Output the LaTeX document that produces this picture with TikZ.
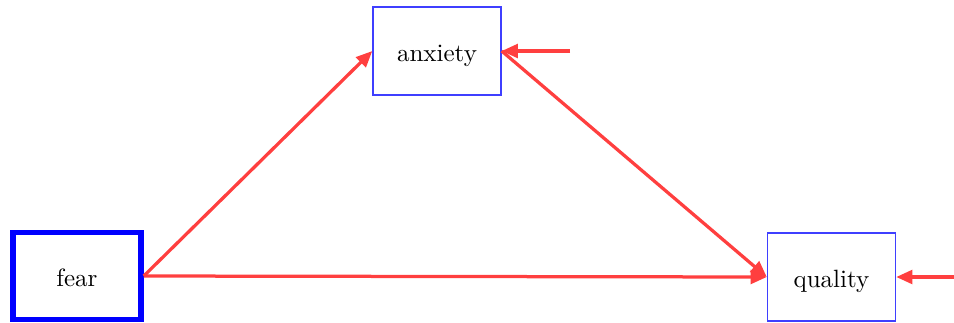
\documentclass[tikz,border=0pt]{standalone}
\usetikzlibrary{arrows.meta}
\definecolor{arrred}{HTML}{FF3F3F}
\definecolor{boxblue}{HTML}{3F3FFF}
\begin{document}
\begin{tikzpicture}[x=0.4pt,y=-0.4pt,
  varbox/.style={draw=boxblue,line width=0.55pt,minimum width=51.2pt,minimum height=35.2pt,inner sep=0pt,text height=8pt,text depth=0pt,font=\fontsize{10}{12}\selectfont},
  exobox/.style={draw=blue,line width=2.2pt,minimum width=51.2pt,minimum height=34.8pt,inner sep=0pt,text height=8pt,text depth=0pt,font=\fontsize{10}{12}\selectfont},
  conn/.style={draw=arrred,line width=1.3pt,-{Triangle[length=6.5pt,width=5.5pt]}}]
\useasboundingbox (0,0) rectangle (954,322);
\node[varbox] (quality) at (831.5,277) {quality};
\node[exobox] (fear) at (77,276) {fear};
\node[varbox] (anxiety) at (437,51) {anxiety};
\coordinate (ea) at (570,51);
\coordinate (eq) at (960,277);
\draw[conn] (fear.east) -- (anxiety.west);
\draw[conn] (fear.east) -- (quality.west);
\draw[conn] (anxiety.east) -- (quality.west);
\draw[conn] (ea) -- (anxiety.east);
\draw[conn] (eq) -- (quality.east);
\end{tikzpicture}
\end{document}
